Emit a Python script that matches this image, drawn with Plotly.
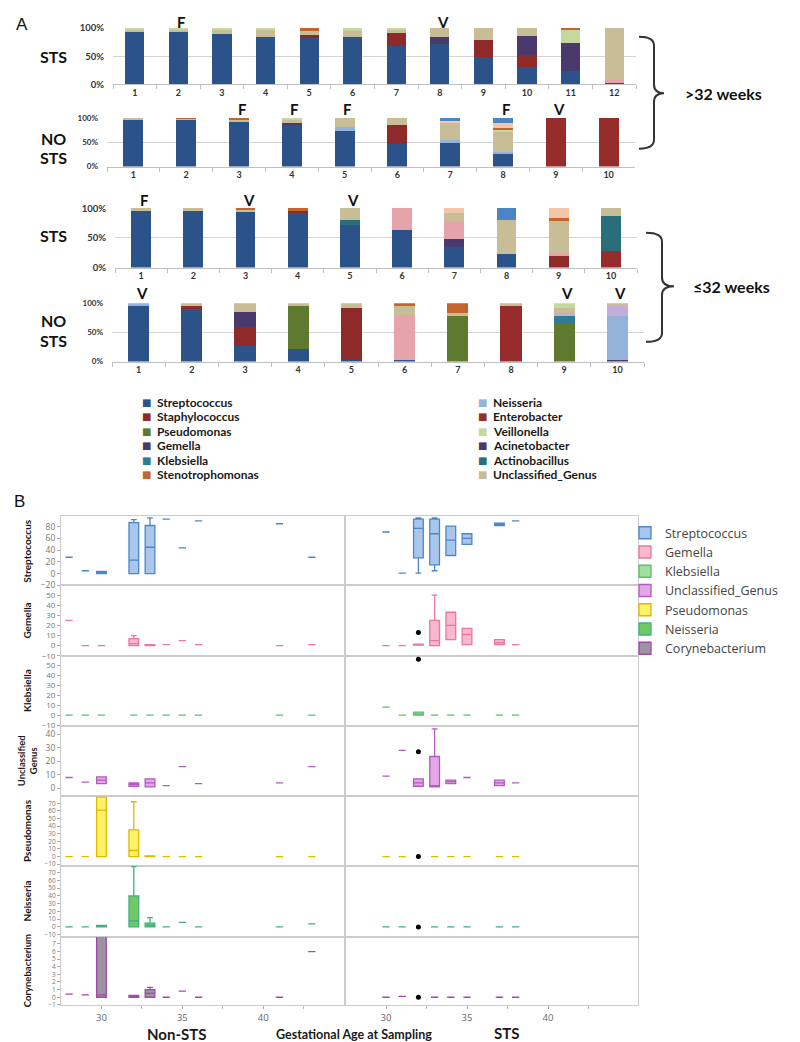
import plotly.graph_objects as go

W, H = 800, 1042


def fx(p):
    return p / W


def fy(p):
    return 1 - p / H


# ---------------- Panel A data (relative abundance, %) ----------------
GENERA = ["Streptococcus", "Staphylococcus", "Enterobacter", "Pseudomonas", "Gemella",
          "Acinetobacter", "Klebsiella", "Actinobacillus", "Neisseria", "Other_pink",
          "Other_lavender", "Unclassified_Genus", "Veillonella", "Stenotrophomonas",
          "Other_peach", "Other_blue"]

GENUS_COLORS = {
    "Streptococcus": "#2b5389", "Staphylococcus": "#8e2a2a", "Enterobacter": "#962c2c",
    "Pseudomonas": "#5f7a2f", "Gemella": "#4b3a70", "Acinetobacter": "#4a3a6b",
    "Klebsiella": "#2f7b94", "Actinobacillus": "#2a6e7c", "Neisseria": "#94b3da",
    "Other_pink": "#e6a3a9", "Other_lavender": "#c3aedb", "Unclassified_Genus": "#c8bd96",
    "Veillonella": "#c6d99c", "Stenotrophomonas": "#c4652c", "Other_peach": "#f2c6a6",
    "Other_blue": "#4d84c4",
}

LEGEND_LEFT = ["Streptococcus", "Staphylococcus", "Pseudomonas", "Gemella", "Klebsiella",
               "Stenotrophomonas"]
LEGEND_RIGHT = ["Neisseria", "Enterobacter", "Veillonella", "Acinetobacter", "Actinobacillus",
                "Unclassified_Genus"]

STS_GT32 = [
    {"Streptococcus": 95, "Unclassified_Genus": 2, "Veillonella": 3},
    {"Streptococcus": 94, "Unclassified_Genus": 3, "Veillonella": 3},
    {"Streptococcus": 90, "Unclassified_Genus": 7, "Veillonella": 3},
    {"Streptococcus": 85, "Unclassified_Genus": 13, "Veillonella": 2},
    {"Streptococcus": 84, "Staphylococcus": 3, "Unclassified_Genus": 8, "Stenotrophomonas": 5},
    {"Streptococcus": 84, "Unclassified_Genus": 11, "Veillonella": 5},
    {"Streptococcus": 68, "Staphylococcus": 24, "Unclassified_Genus": 5, "Veillonella": 3},
    {"Streptococcus": 71, "Acinetobacter": 13, "Unclassified_Genus": 16},
    {"Streptococcus": 49, "Staphylococcus": 29, "Unclassified_Genus": 22},
    {"Streptococcus": 30, "Staphylococcus": 22, "Acinetobacter": 34, "Unclassified_Genus": 14},
    {"Streptococcus": 23, "Acinetobacter": 50, "Veillonella": 24, "Stenotrophomonas": 3},
    {"Streptococcus": 2, "Other_pink": 6, "Unclassified_Genus": 92},
]
NOSTS_GT32 = [
    {"Streptococcus": 97, "Unclassified_Genus": 3},
    {"Streptococcus": 97, "Unclassified_Genus": 2, "Stenotrophomonas": 1},
    {"Streptococcus": 92, "Unclassified_Genus": 6, "Stenotrophomonas": 2},
    {"Streptococcus": 87, "Gemella": 4, "Unclassified_Genus": 7, "Veillonella": 2},
    {"Streptococcus": 73, "Neisseria": 9, "Unclassified_Genus": 18},
    {"Streptococcus": 46, "Staphylococcus": 39, "Unclassified_Genus": 15},
    {"Streptococcus": 50, "Neisseria": 4, "Unclassified_Genus": 37, "Other_peach": 5, "Other_blue": 4},
    {"Streptococcus": 27, "Neisseria": 4, "Unclassified_Genus": 40, "Veillonella": 5,
     "Stenotrophomonas": 3, "Other_peach": 11, "Other_blue": 10},
    {"Enterobacter": 100},
    {"Enterobacter": 100},
]
STS_LE32 = [
    {"Streptococcus": 97, "Unclassified_Genus": 3},
    {"Streptococcus": 95, "Unclassified_Genus": 5},
    {"Streptococcus": 94, "Unclassified_Genus": 4, "Stenotrophomonas": 2},
    {"Streptococcus": 93, "Staphylococcus": 4, "Stenotrophomonas": 3},
    {"Streptococcus": 72, "Actinobacillus": 9, "Unclassified_Genus": 19},
    {"Streptococcus": 64, "Other_pink": 36},
    {"Streptococcus": 34, "Gemella": 15, "Other_pink": 29, "Unclassified_Genus": 14, "Other_peach": 8},
    {"Streptococcus": 23, "Unclassified_Genus": 57, "Other_blue": 20},
    {"Staphylococcus": 20, "Other_pink": 5, "Unclassified_Genus": 55, "Stenotrophomonas": 3,
     "Other_peach": 17},
    {"Enterobacter": 28, "Actinobacillus": 59, "Unclassified_Genus": 13},
]
NOSTS_LE32 = [
    {"Streptococcus": 97, "Neisseria": 3},
    {"Streptococcus": 91, "Staphylococcus": 5, "Unclassified_Genus": 4},
    {"Streptococcus": 27, "Staphylococcus": 33, "Acinetobacter": 25, "Unclassified_Genus": 15},
    {"Streptococcus": 22, "Pseudomonas": 73, "Unclassified_Genus": 5},
    {"Streptococcus": 3, "Staphylococcus": 90, "Unclassified_Genus": 7},
    {"Streptococcus": 3, "Other_pink": 77, "Unclassified_Genus": 17, "Stenotrophomonas": 3},
    {"Pseudomonas": 78, "Unclassified_Genus": 5, "Stenotrophomonas": 17},
    {"Enterobacter": 96, "Unclassified_Genus": 4},
    {"Pseudomonas": 66, "Klebsiella": 12, "Other_lavender": 6, "Unclassified_Genus": 8, "Veillonella": 8},
    {"Gemella": 2, "Neisseria": 76, "Other_lavender": 17, "Unclassified_Genus": 5},
]

# bar number -> letter shown above it
STS_GT32_FLAGS = {2: "F", 8: "V"}
NOSTS_GT32_FLAGS = {3: "F", 4: "F", 5: "F", 8: "F", 9: "V"}
STS_LE32_FLAGS = {1: "F", 3: "V", 5: "V"}
NOSTS_LE32_FLAGS = {1: "V", 9: "V", 10: "V"}

# ---------------- Panel B data (weeks, values) ----------------
# singles: (week, value); boxes: (week, lowerfence, q1, median, q3, upperfence)
STREP_NON_SINGLE = [(28, 28), (29, 5), (34, 93), (35, 44), (36, 90), (41, 85), (43, 28)]
STREP_NON_BOX = [(30, 0, 0, 2, 4, 4), (32, 0, 0, 23, 87, 92), (33, 0, 0, 45, 82, 95)]
STREP_STS_SINGLE = [(30, 71), (31, 1), (38, 90)]
STREP_STS_BOX = [(32, 1, 27, 77, 93, 95), (33, 5, 15, 68, 93, 95), (34, 31, 31, 57, 81, 81),
                 (35, 50, 50, 60, 68, 68), (37, 82, 82, 84, 86, 86)]
STREP_OUT = []

GEM_NON_SINGLE = [(28, 25), (29, 0), (30, 0), (34, 1), (35, 5), (36, 1), (41, 0), (43, 1)]
GEM_NON_BOX = [(32, 0, 0, 2, 7, 10), (33, 0, 0, 0.5, 1, 1)]
GEM_STS_SINGLE = [(30, 0), (31, 0), (38, 1)]
GEM_STS_BOX = [(32, 0.5, 0.5, 1, 1.5, 1.5), (33, 0, 0, 5, 25, 50), (34, 6, 6, 20, 33, 33),
               (35, 1, 1, 11, 17, 17), (37, 1, 1, 3, 6, 6)]
GEM_OUT = [(32, 13)]

KLEB_NON_SINGLE = [(28, 0), (29, 0), (30, 0), (32, 0), (33, 0), (34, 0), (35, 0), (36, 0), (41, 0), (43, 0)]
KLEB_NON_BOX = []
KLEB_STS_SINGLE = [(30, 8), (31, 0), (33, 0), (34, 0), (35, 0), (37, 0), (38, 0)]
KLEB_STS_BOX = [(32, 0, 0, 1, 3, 3)]
KLEB_OUT = [(32, 56)]

UNCL_NON_SINGLE = [(28, 8), (29, 4.5), (34, 2), (35, 16), (36, 3.5), (41, 4), (43, 16)]
UNCL_NON_BOX = [(30, 3.5, 3.5, 6, 8.5, 8.5), (32, 1.5, 1.5, 3, 4, 4), (33, 1, 1, 4, 7, 7)]
UNCL_STS_SINGLE = [(30, 9), (31, 28), (35, 8), (38, 4)]
UNCL_STS_BOX = [(32, 1.5, 1.5, 4, 7, 7), (33, 1, 1, 2, 23.5, 44), (34, 3.5, 3.5, 5, 6, 6),
                (37, 2, 2, 4, 6, 6)]
UNCL_OUT = [(32, 27)]

PSEU_NON_SINGLE = [(28, 0), (29, 0), (34, 0), (35, 0), (36, 0), (41, 0), (43, 0)]
PSEU_NON_BOX = [(30, 0, 0, 61, 78, 78), (32, 0, 0, 8, 35, 72), (33, 0, 0, 0.5, 1, 1)]
PSEU_STS_SINGLE = [(30, 0), (31, 0), (33, 0), (34, 0), (35, 0), (37, 0), (38, 0)]
PSEU_STS_BOX = []
PSEU_OUT = [(32, 0)]

NEIS_NON_SINGLE = [(28, 0), (29, 0), (34, 0), (35, 6), (36, 0), (41, 0), (43, 4)]
NEIS_NON_BOX = [(30, 0, 0, 1, 2, 2), (32, 0, 0, 8, 40, 78), (33, 0, 0, 2, 5, 12)]
NEIS_STS_SINGLE = [(30, 0), (31, 0), (33, 0), (34, 0), (35, 0), (37, 0), (38, 0)]
NEIS_STS_BOX = []
NEIS_OUT = [(32, 0)]

CORY_NON_SINGLE = [(28, 0.4), (29, 0.3), (34, 0), (35, 0.8), (36, 0), (41, 0), (43, 6)]
CORY_NON_BOX = [(30, 0, 0, 0.3, 12, 12), (32, 0, 0, 0.1, 0.25, 0.25), (33, 0, 0, 0.5, 1, 1.3)]
CORY_STS_SINGLE = [(30, 0), (31, 0.1), (33, 0), (34, 0), (35, 0), (37, 0), (38, 0)]
CORY_STS_BOX = []
CORY_OUT = [(32, 0)]

B_ROWS = [
    dict(name="Streptococcus", title="Streptococcus", line="#4f86c6", fill="#a9c6ec", rng=[-20, 98], dtick=20,
         tfs=8.5, ns=STREP_NON_SINGLE, nb=STREP_NON_BOX, ss=STREP_STS_SINGLE, sb=STREP_STS_BOX, out=STREP_OUT),
    dict(name="Gemella", title="Gemella", line="#e8799a", fill="#f9b8cb", rng=[-10, 59.5], dtick=10,
         tfs=8, ns=GEM_NON_SINGLE, nb=GEM_NON_BOX, ss=GEM_STS_SINGLE, sb=GEM_STS_BOX, out=GEM_OUT),
    dict(name="Klebsiella", title="Klebsiella", line="#5cbf6a", fill="#9fe09f", rng=[-11, 59.5], dtick=10,
         tfs=8, ns=KLEB_NON_SINGLE, nb=KLEB_NON_BOX, ss=KLEB_STS_SINGLE, sb=KLEB_STS_BOX, out=KLEB_OUT),
    dict(name="Unclassified_Genus", title="Unclassified<br>Genus", line="#b35cc0", fill="#e3a6e6",
         rng=[-6, 46], dtick=10, tfs=8.5,
         ns=UNCL_NON_SINGLE, nb=UNCL_NON_BOX, ss=UNCL_STS_SINGLE, sb=UNCL_STS_BOX, out=UNCL_OUT),
    dict(name="Pseudomonas", title="Pseudomonas", line="#e0b800", fill="#fff266", rng=[-12, 79], dtick=10,
         tfs=6.5, ns=PSEU_NON_SINGLE, nb=PSEU_NON_BOX, ss=PSEU_STS_SINGLE, sb=PSEU_STS_BOX, out=PSEU_OUT),
    dict(name="Neisseria", title="Neisseria", line="#3fb08a", fill="#72c862", rng=[-13, 79], dtick=10,
         tfs=6.5, ns=NEIS_NON_SINGLE, nb=NEIS_NON_BOX, ss=NEIS_STS_SINGLE, sb=NEIS_STS_BOX, out=NEIS_OUT),
    dict(name="Corynebacterium", title="Corynebacterium", line="#a04aa8", fill="#9c93a3",
         rng=[-1.07, 7.9], dtick=1, tfs=6.5,
         ns=CORY_NON_SINGLE, nb=CORY_NON_BOX, ss=CORY_STS_SINGLE, sb=CORY_STS_BOX, out=CORY_OUT),
]

# ---------------- Layout geometry (pixels) ----------------
A_ROWS = [
    dict(data=STS_GT32, flags=STS_GT32_FLAGS, title=["STS"], box=(105, 628, 15, 72), width=0.44,
         flag_y=9, title_y=[44], tsize=9.5),
    dict(data=NOSTS_GT32, flags=NOSTS_GT32_FLAGS, title=["NO", "STS"], box=(99, 627, 106, 155), width=0.38,
         flag_y=97, title_y=[127, 146], tsize=8),
    dict(data=STS_LE32, flags=STS_LE32_FLAGS, title=["STS"], box=(107, 629, 197, 257), width=0.38,
         flag_y=189, title_y=[225], tsize=9.5),
    dict(data=NOSTS_LE32, flags=NOSTS_LE32_FLAGS, title=["NO", "STS"], box=(104, 636, 293, 352), width=0.4,
         flag_y=283, title_y=[310, 331], tsize=8),
]
B_EDGES = [508, 578, 649, 720, 791, 861, 933, 1002]
B_COLS = [(53, 337, [27.5, 45.05]), (337, 630, [27.47, 45.55])]

FONT_A = "Lato"
FONT_B = "Open Sans"

fig = go.Figure()
layout = {}
annotations = []
shapes = []


def axref(prefix, k):
    return prefix if k == 1 else f"{prefix}{k}"


def axkey(prefix, k):
    return f"{prefix}axis" if k == 1 else f"{prefix}axis{k}"


def note(px, py, text, size, family=FONT_A, color="#111", xanchor="center", **kw):
    annotations.append(dict(x=fx(px), y=fy(py), xref="paper", yref="paper", text=text, showarrow=False,
                            xanchor=xanchor, yanchor="middle",
                            font=dict(family=family, size=size, color=color), **kw))


# ---------------- Panel A ----------------
for k, row in enumerate(A_ROWS, start=1):
    x0, x1, ytop, ybot = row["box"]
    data = row["data"]
    cats = [str(i + 1) for i in range(len(data))]
    for g in GENERA:
        vals = [bar.get(g, 0) for bar in data]
        if not any(vals):
            continue
        fig.add_trace(go.Bar(x=cats, y=vals, name=g, marker=dict(color=GENUS_COLORS[g], line=dict(width=0)),
                             width=row["width"], xaxis=axref("x", k), yaxis=axref("y", k),
                             showlegend=False, hoverinfo="name+y"))
    layout[axkey("x", k)] = dict(domain=[fx(x0), fx(x1)], anchor=axref("y", k), type="category",
                                 categoryorder="array", categoryarray=cats, range=[-0.5, len(cats) - 0.5],
                                 showline=True, linecolor="#bfbfbf", linewidth=1, ticks="outside",
                                 tickson="boundaries", ticklen=4, tickcolor="#bfbfbf", showgrid=False,
                                 tickfont=dict(family=FONT_A, size=9, color="#333", weight="bold"))
    layout[axkey("y", k)] = dict(domain=[fy(ybot), fy(ytop)], anchor=axref("x", k), range=[0, 100.5],
                                 tickvals=[0, 50, 100], ticktext=["0%", "50%", "100%"],
                                 showgrid=True, gridcolor="#d4d4d4", gridwidth=1, zeroline=False,
                                 showline=False, ticks="", ticklabelstandoff=8,
                                 tickfont=dict(family=FONT_A, size=row["tsize"], color="#333", weight="bold"))
    for bar_no, letter in row["flags"].items():
        annotations.append(dict(x=bar_no - 1, xref=axref("x", k), y=fy(row["flag_y"]), yref="paper",
                                text=f"<b>{letter}</b>", showarrow=False, xshift=3,
                                xanchor="center", yanchor="middle",
                                font=dict(family=FONT_A, size=15, color="#111")))
    for txt, ty in zip(row["title"], row["title_y"]):
        note(45, ty, f"<b>{txt}</b>", 16)

# Panel A legend (two columns)
for col_x, names in ((138, LEGEND_LEFT), (474, LEGEND_RIGHT)):
    for i, g in enumerate(names):
        yy = 393 + 14.6 * i
        note(col_x, yy, "■", 10, family="DejaVu Sans", color=GENUS_COLORS[g])
        note(col_x + 9, yy, f"<b>{g}</b>", 12, color="#1a1a1a", xanchor="left")


# Braces
def brace(xl, xm, xt, ytop, ymid, ybot):
    r = 9
    pts = (f"M {fx(xl)},{fy(ytop)} Q {fx(xm)},{fy(ytop)} {fx(xm)},{fy(ytop + r)} "
           f"L {fx(xm)},{fy(ymid - r)} Q {fx(xm)},{fy(ymid)} {fx(xt)},{fy(ymid)} "
           f"Q {fx(xm)},{fy(ymid)} {fx(xm)},{fy(ymid + r)} "
           f"L {fx(xm)},{fy(ybot - r)} Q {fx(xm)},{fy(ybot)} {fx(xl)},{fy(ybot)}")
    return dict(type="path", path=pts, xref="paper", yref="paper", line=dict(color="#333", width=2))


shapes.append(brace(631, 646, 656, 24, 81, 137))
shapes.append(brace(638, 654, 666, 222, 276, 332))
note(675, 81, "<b>&gt;32 weeks</b>", 16, xanchor="left")
note(683, 276, "<b>≤32 weeks</b>", 16, xanchor="left")
note(6, 12, "A", 17, family="Liberation Sans", xanchor="left")
note(4, 493, "B", 17, family="Liberation Sans", xanchor="left")


# ---------------- Panel B ----------------
def add_box(items, xa, ya, line, fill, width, showlegend=False, name=""):
    if not items:
        return
    fig.add_trace(go.Box(
        x=[it[0] for it in items], lowerfence=[it[1] for it in items], q1=[it[2] for it in items],
        median=[it[3] for it in items], q3=[it[4] for it in items], upperfence=[it[5] for it in items],
        orientation="v", width=width, whiskerwidth=0.6, line=dict(color=line, width=1.3), fillcolor=fill,
        xaxis=xa, yaxis=ya, name=name, showlegend=showlegend, boxpoints=False))


def add_single(items, xa, ya, line, fill, showlegend=False, name=""):
    box_items = [(w, v, v, v, v, v) for w, v in items]
    add_box(box_items, xa, ya, line, fill, 0.45, showlegend, name)


for r, row in enumerate(B_ROWS):
    top, bot = B_EDGES[r], B_EDGES[r + 1]
    left_k = 5 + 2 * r
    for c, (c0, c1, xr) in enumerate(B_COLS):
        k = left_k + c
        xa, ya = axref("x", k), axref("y", k)
        last = r == len(B_ROWS) - 1
        layout[axkey("x", k)] = dict(
            domain=[fx(c0), fx(c1)], anchor=ya, range=xr, showline=True, mirror=True, linecolor="#cccccc",
            showgrid=False, zeroline=False, showticklabels=last, ticks="outside" if last else "",
            tickvals=[30, 35, 40], ticklen=3, tickcolor="#aaaaaa",
            minor=dict(tickvals=[32.5, 37.5, 42.5], ticks="outside" if last else "", ticklen=3,
                       tickcolor="#bbbbbb"),
            tickfont=dict(family=FONT_B, size=9.5, color="#666"))
        ydict = dict(domain=[fy(bot), fy(top)], anchor=xa, range=row["rng"], showline=True, mirror=True,
                     linecolor="#cccccc", showgrid=False, zeroline=False)
        if c == 0:
            ydict.update(dtick=row["dtick"], tick0=0, ticks="outside", ticklen=3, tickcolor="#aaaaaa",
                         tickfont=dict(family=FONT_B, size=row["tfs"], color="#777"))
        else:
            ydict.update(matches=axref("y", left_k), showticklabels=False, ticks="")
        layout[axkey("y", k)] = ydict
        singles = row["ns"] if c == 0 else row["ss"]
        boxes = row["nb"] if c == 0 else row["sb"]
        add_single(singles, xa, ya, row["line"], row["fill"], showlegend=(c == 0), name=row["name"])
        add_box(boxes, xa, ya, row["line"], row["fill"], 0.6)
        if c == 1 and row["out"]:
            fig.add_trace(go.Scatter(x=[o[0] for o in row["out"]], y=[o[1] for o in row["out"]],
                                     mode="markers", marker=dict(color="black", size=5),
                                     xaxis=xa, yaxis=ya, showlegend=False))
    tsize = 9.5 if len(row["title"]) > 13 else 10
    note(19, (top + bot) / 2, f"<b>{row['title']}</b>", tsize, color="#1a1a1a", textangle=-90)

note(168, 1031, "<b>Non-STS</b>", 15, color="#1a1a1a")
note(346, 1031, "<b>Gestational Age at Sampling</b>", 12.5, color="#1a1a1a")
note(498, 1030, "<b>STS</b>", 15, color="#1a1a1a")

fig.update_layout(
    width=W, height=H, margin=dict(l=0, r=0, t=0, b=0), paper_bgcolor="white", plot_bgcolor="white",
    barmode="stack", boxmode="overlay", annotations=annotations, shapes=shapes,
    font=dict(family=FONT_B, color="#333"),
    legend=dict(x=fx(617), y=fy(510), xanchor="left", yanchor="top", bgcolor="rgba(0,0,0,0)",
                traceorder="normal", font=dict(family=FONT_B, size=12.5, color="#444"),
                tracegroupgap=0, itemwidth=30),
    **layout,
)

fig.write_html("out.html")
